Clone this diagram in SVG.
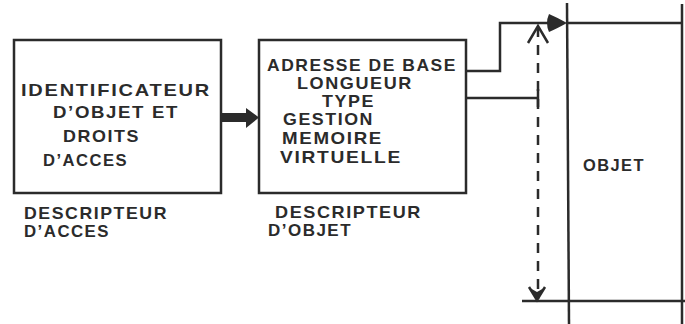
<svg xmlns="http://www.w3.org/2000/svg" width="685" height="324" viewBox="0 0 685 324">
<defs>
<style>
.t{font-family:"Liberation Sans",Arial,sans-serif;font-weight:bold;font-size:17px;letter-spacing:1.5px;fill:#2b2b2b}
.box{fill:none;stroke:#2b2b2b;stroke-width:2.5}
.ln{fill:none;stroke:#2b2b2b;stroke-width:2.5}
.dash{fill:none;stroke:#2b2b2b;stroke-width:2.5;stroke-dasharray:10 8}
</style>
</defs>
<rect width="685" height="324" fill="#ffffff"/>

<g id="descripteur-acces">
<rect class="box" x="14" y="40" width="207" height="153"/>
<text class="t" x="21" y="96" textLength="190" lengthAdjust="spacingAndGlyphs">IDENTIFICATEUR</text>
<text class="t" x="53" y="118" textLength="126" lengthAdjust="spacingAndGlyphs">D’OBJET ET</text>
<text class="t" x="63" y="142" textLength="77" lengthAdjust="spacingAndGlyphs">DROITS</text>
<text class="t" x="43" y="166" textLength="85" lengthAdjust="spacingAndGlyphs">D’ACCES</text>
<text class="t" x="24" y="219" textLength="144" lengthAdjust="spacingAndGlyphs">DESCRIPTEUR</text>
<text class="t" x="24" y="237" textLength="86" lengthAdjust="spacingAndGlyphs">D’ACCES</text>
</g>

<g id="descripteur-objet">
<rect class="box" x="259" y="40" width="207" height="153"/>
<text class="t" x="267" y="71" textLength="190" lengthAdjust="spacingAndGlyphs">ADRESSE DE BASE</text>
<text class="t" x="297" y="89" textLength="116" lengthAdjust="spacingAndGlyphs">LONGUEUR</text>
<text class="t" x="322" y="107" textLength="53" lengthAdjust="spacingAndGlyphs">TYPE</text>
<text class="t" x="283" y="125" textLength="91" lengthAdjust="spacingAndGlyphs">GESTION</text>
<text class="t" x="282" y="144" textLength="101" lengthAdjust="spacingAndGlyphs">MEMOIRE</text>
<text class="t" x="280" y="163" textLength="122" lengthAdjust="spacingAndGlyphs">VIRTUELLE</text>
<text class="t" x="275" y="218" textLength="147" lengthAdjust="spacingAndGlyphs">DESCRIPTEUR</text>
<text class="t" x="268" y="236" textLength="84" lengthAdjust="spacingAndGlyphs">D’OBJET</text>
</g>

<g id="objet">
<path class="ln" d="M567 3 L569 324"/>
<path class="ln" d="M567 23 H682"/>
<path class="ln" d="M682 4 V324"/>
<path class="ln" d="M522 301 H685"/>
<text class="t" x="583" y="171" textLength="62" lengthAdjust="spacingAndGlyphs">OBJET</text>
</g>

<g id="connectors">
<path d="M222 113 H246 V108 L259 117.5 L246 128 V122 H222 Z" fill="#2b2b2b"/>
<path class="ln" d="M466 71 H500 V23 H552"/>
<path d="M549 14 Q556 17 567 23 Q556 29 549 32 Q545 23 549 14 Z" fill="#2b2b2b"/>
<path class="ln" d="M466 98 H538"/>
<path class="ln" d="M538 89 V107"/>
<path class="dash" d="M538 27 V299"/>
<path class="ln" d="M528 43 L538 26 L548 43" stroke-width="3"/>
<path class="ln" d="M529 287 L537 300 L545 287"/>
<path d="M530 288 L537 300 L544 288 L537 292 Z" fill="#2b2b2b"/>
</g>
</svg>
